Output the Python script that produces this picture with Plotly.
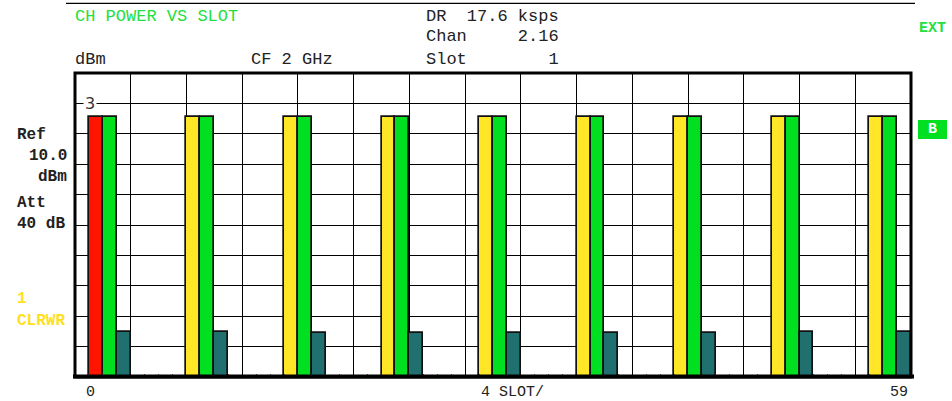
import plotly.graph_objects as go

# ---------------- data ----------------
Y_FLOOR = -6.0   # bottom of the display (dB)
Y_TOP = 4.0      # top of the display (dB)

red_slots = [0]
red_power = [2.56]

yellow_slots = [7, 14, 21, 28, 35, 42, 49, 56]
yellow_power = [2.56, 2.56, 2.56, 2.56, 2.56, 2.56, 2.56, 2.56]

green_slots = [1, 8, 15, 22, 29, 36, 43, 50, 57]
green_power = [2.56, 2.56, 2.56, 2.56, 2.56, 2.56, 2.56, 2.56, 2.56]

teal_slots = [2, 9, 16, 23, 30, 37, 44, 51, 58]
teal_power = [-4.51, -4.51, -4.56, -4.56, -4.56, -4.56, -4.56, -4.51, -4.53]

x_tick_labels = ["0", "4 SLOT/", "59"]
y_tick_label = "3"

# ---------------- layout constants ----------------
W, H = 952, 401
L, R, T, B = 75, 41, 73, 24
PW = W - L - R
PH = H - T - B


def px(x):
    return (x - L) / PW


def py(y):
    return (H - B - y) / PH


RED = "#FF1400"
GREEN = "#00E020"
YELLOW = "#FFE626"
TEAL = "#207070"
TXT_GREEN = "#22E040"
TXT_YELLOW = "#FFE020"
MONO = "Liberation Mono, Courier New, monospace"

fig = go.Figure()


def add_bars(slots, power, color):
    fig.add_trace(go.Bar(
        x=slots,
        y=[p - Y_FLOOR for p in power],
        base=Y_FLOOR,
        width=1.0,
        marker=dict(color=color, line=dict(color="#111111", width=1.7)),
        showlegend=False,
        hoverinfo="skip",
    ))


add_bars(red_slots, red_power, RED)
add_bars(yellow_slots, yellow_power, YELLOW)
add_bars(green_slots, green_power, GREEN)
add_bars(teal_slots, teal_power, TEAL)

fig.update_layout(
    width=W, height=H,
    margin=dict(l=L, r=R, t=T, b=B, pad=0),
    paper_bgcolor="white",
    plot_bgcolor="white",
    barmode="overlay",
    bargap=0,
    xaxis=dict(
        range=[-1.5, 58.5],
        tick0=-1.5, dtick=4,
        showgrid=True, gridcolor="black", gridwidth=1,
        zeroline=False, showticklabels=False, ticks="",
        showline=False,
        minor=dict(dtick=1, tick0=-0.5, ticks="inside", ticklen=3,
                   tickcolor="#555555", tickwidth=1, showgrid=False),
    ),
    yaxis=dict(
        range=[Y_FLOOR, Y_TOP],
        tick0=0, dtick=1,
        showgrid=True, gridcolor="black", gridwidth=1,
        zeroline=False, showticklabels=False, ticks="",
        showline=False,
    ),
)

shapes = []
# thick frame
shapes.append(dict(type="rect", xref="paper", yref="paper", x0=0, x1=1, y0=0, y1=1,
                   line=dict(color="black", width=3), layer="above"))
shapes.append(dict(type="line", xref="paper", yref="paper", x0=px(73), x1=px(914),
                   y0=py(376.5), y1=py(376.5), line=dict(color="black", width=4), layer="above"))
# top separator line
shapes.append(dict(type="line", xref="paper", yref="paper", x0=px(66), x1=px(915),
                   y0=py(3.3), y1=py(3.3), line=dict(color="black", width=1.3)))
# "B" box
shapes.append(dict(type="rect", xref="paper", yref="paper", x0=px(918), x1=px(947),
                   y0=py(139), y1=py(120), fillcolor=GREEN, line=dict(width=0)))
fig.update_layout(shapes=shapes)

ann = []


def text(x, y, s, color="#222222", size=17, bold=False, anchor="left", family=MONO, **kw):
    ann.append(dict(x=px(x), y=py(y), xref="paper", yref="paper", text=s,
                    showarrow=False, xanchor=anchor, yanchor="middle",
                    font=dict(family=family, size=size, color=color,
                              weight="bold" if bold else "normal"),
                    borderpad=0, **kw))


NB = "\u00a0"
# header
text(74, 16, "CH POWER VS SLOT", color=TXT_GREEN)
text(74, 59, "dBm")
text(250, 59, "CF 2 GHz".replace(" ", NB))
text(425, 16, ("DR  17.6 ksps").replace(" ", NB))
text(425, 37, ("Chan     2.16").replace(" ", NB))
text(425, 59, ("Slot        1").replace(" ", NB))
text(918, 28, "EXT", color=TXT_GREEN, size=15, bold=True)
text(932.5, 129.5, "B", color="white", size=15, bold=True, anchor="center")

# left side panel
text(16, 134.5, "Ref", bold=True, size=16)
text(68, 155.7, "10.0", bold=True, anchor="right", size=16)
text(68, 176.7, "dBm", bold=True, anchor="right", size=16)
text(16, 203, "Att", bold=True, size=16)
text(16, 224, "40" + NB + "dB", bold=True, size=16)
text(16, 299, "1", color=TXT_YELLOW, bold=True, size=16)
text(16, 321, "CLRWR", color=TXT_YELLOW, bold=True, size=16)

# y label "3" sitting on the grid line
ann.append(dict(x=-1.5, y=float(y_tick_label), xref="x", yref="y", text=y_tick_label,
                showarrow=False, xanchor="left", yanchor="middle", xshift=8,
                bgcolor="white", borderpad=1,
                font=dict(family="DejaVu Sans", size=16, color="#333333")))

# x labels
text(90.5, 392, x_tick_labels[0], size=15, anchor="center")
text(512, 392, x_tick_labels[1].replace(" ", NB), size=15, anchor="center")
text(909, 392, x_tick_labels[2], size=15, anchor="right")

fig.update_layout(annotations=ann)

fig.write_html("out.html", config=dict(displayModeBar=False),
               post_script="document.body.style.margin='0px';")
